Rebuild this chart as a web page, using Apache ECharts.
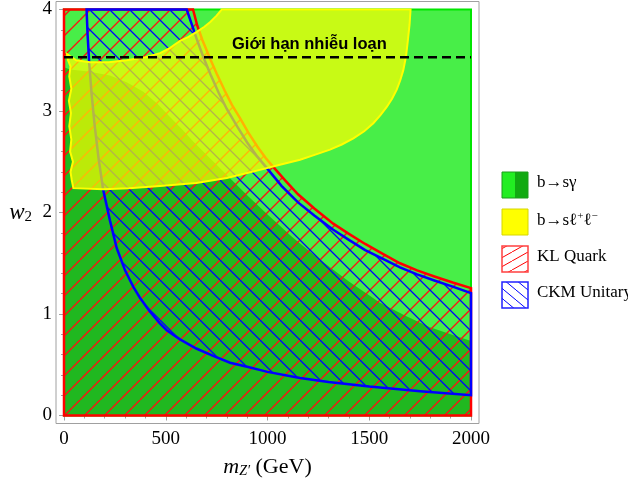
<!DOCTYPE html>
<html><head><meta charset="utf-8">
<script src="https://cdn.jsdelivr.net/npm/echarts@6/dist/echarts.min.js"></script>
<style>html,body{margin:0;padding:0;background:#fff}#c{width:628px;height:492px}</style>
</head><body><div id="c"></div>
<script>
// ---------- data ----------
const xRange = [0, 2000];
const yRange = [0, 4];
const xTickStep = 500;
const yTickStep = 1;
const perturbLimit = 3.53;
const perturbLabel = 'Giới hạn nhiễu loạn';
const legendLabels = ['{a|b→sγ}', '{a|b→sℓ}{p|+}{a|ℓ}{p|−}', '{a|KL Quark}', '{a|CKM Unitary}'];

// b→sγ allowed region (light green) and its darker core
const bsgFullRegion = [[0,0],[2000,0],[2000,4],[0,4]];
const bsgDarkEdge = [[0,3.43],[30,3.41],[120,3.39],[226,3.35],[310,3.28],[390,3.19],[460,3.07],[521,2.94],[580,2.82],[635,2.70],[700,2.57],[750,2.47],[800,2.37],[900,2.17],[1000,1.98],[1120,1.76],[1242,1.56],[1400,1.32],[1553,1.11],[1680,0.98],[1798,0.87],[1900,0.80],[2000,0.735]];
// b→sℓ+ℓ− region (yellow)
const bsllRegion = [[15,3.56],[60,3.50],[128,3.48],[220,3.48],[308,3.50],[400,3.53],[472,3.57],[520,3.62],[570,3.69],[612,3.73],[652,3.78],[690,3.83],[720,3.88],[750,3.94],[775,4.0],[1703,4.0],[1698,3.85],[1690,3.70],[1681,3.54],[1667,3.40],[1652,3.30],[1635,3.21],[1612,3.12],[1586,3.04],[1555,2.96],[1520,2.88],[1475,2.80],[1422,2.73],[1365,2.67],[1307,2.62],[1235,2.57],[1160,2.52],[1061,2.47],[963,2.42],[880,2.38],[800,2.34],[650,2.29],[472,2.26],[320,2.24],[193,2.23],[46,2.24],[38,2.32],[32,2.40],[44,2.50],[30,2.60],[36,2.72],[26,2.85],[34,2.98],[24,3.10],[36,3.22],[26,3.34],[32,3.44],[20,3.50]];
// KL quark bound (red)
const klEdge = [[634,4.0],[655,3.84],[680,3.70],[717,3.52],[750,3.37],[790,3.20],[825,3.06],[865,2.93],[905,2.79],[950,2.65],[990,2.54],[1028,2.45],[1090,2.31],[1150,2.18],[1230,2.04],[1323,1.89],[1400,1.79],[1480,1.69],[1560,1.60],[1651,1.50],[1735,1.43],[1820,1.37],[1910,1.31],[2000,1.255]];
// CKM unitarity band (blue)
const ckmUpperEdge = [[603,4.0],[625,3.87],[652,3.71],[685,3.53],[720,3.36],[760,3.18],[800,3.02],[850,2.85],[900,2.69],[950,2.55],[996,2.44],[1070,2.26],[1150,2.10],[1230,1.97],[1323,1.83],[1400,1.73],[1480,1.63],[1560,1.55],[1651,1.46],[1735,1.39],[1820,1.33],[1910,1.27],[2000,1.205]];
const ckmLowerEdge = [[111,4.0],[116,3.75],[124,3.47],[135,3.18],[150,2.87],[170,2.53],[192,2.23],[226,1.92],[259,1.65],[300,1.43],[340,1.27],[373,1.16],[420,1.03],[470,0.91],[505,0.84],[570,0.75],[650,0.66],[730,0.59],[816,0.52],[900,0.48],[1000,0.43],[1160,0.37],[1300,0.33],[1500,0.285],[1750,0.24],[2000,0.20]];

// ---------- build ----------
const darkRegion = bsgDarkEdge.concat([[2000,0],[0,0]]);
const klRegion = [[0,0],[2000,0]].concat(klEdge.slice().reverse(), [[0,4]]);
const ckmRegion = ckmUpperEdge.concat(ckmLowerEdge.slice().reverse());

function hatch(color, w, h, dir, lw) {
  const c = document.createElement('canvas');
  c.width = w; c.height = h;
  const g = c.getContext('2d');
  g.strokeStyle = color; g.lineWidth = lw;
  g.beginPath();
  for (let k = -1; k <= 2; k++) {
    if (dir === '/') { g.moveTo(k * w, 0); g.lineTo((k - 1) * w, h); }
    else { g.moveTo(k * w, 0); g.lineTo((k + 1) * w, h); }
  }
  g.stroke();
  return c;
}
const redHatch = hatch('#ff1010', 20, 20, '/', 1.4);
const blueHatch = hatch('#0000ff', 20, 20, '\\', 1.3);
const redHatchLeg = hatch('#ff0000', 16, 9, '/', 1);
const blueHatchLeg = hatch('#0000ff', 12, 10, '\\', 1);

function polySeries(name, pts, style) {
  return {
    type: 'custom', name: name, xAxisIndex: 0, yAxisIndex: 0,
    data: [[0]], silent: true, clip: false,
    renderItem: function (params, api) {
      return { type: 'polygon', shape: { points: pts.map(p => api.coord(p)) }, style: style };
    }
  };
}

const serif = 'Liberation Serif';
const tickStyle = { color: '#a0a0a0', width: 1 };
function dataAxis(pos, labels, extra) {
  const isX = (pos === 'bottom' || pos === 'top');
  return Object.assign({
    type: 'value', gridIndex: 1, position: pos, offset: 8,
    min: isX ? xRange[0] : yRange[0], max: isX ? xRange[1] : yRange[1],
    interval: isX ? xTickStep : yTickStep,
    axisLine: { show: false },
    axisTick: { show: true, inside: true, length: 5, lineStyle: tickStyle },
    minorTick: { show: true, splitNumber: 5, length: 3, lineStyle: tickStyle },
    splitLine: { show: false }, minorSplitLine: { show: false },
    axisLabel: { show: labels, color: '#000', fontFamily: serif, fontSize: 19, margin: isX ? 6 : 4,
      formatter: function (v) { return String(v); } }
  }, extra || {});
}

const chart = echarts.init(document.getElementById('c'), null, { renderer: 'canvas' });
chart.setOption({
  animation: false,
  backgroundColor: '#fff',
  grid: [
    { left: 56, top: 1.5, width: 423, height: 422, show: true, borderColor: '#a0a0a0', borderWidth: 1, backgroundColor: 'transparent' },
    { left: 64, top: 9.5, width: 407, height: 406, show: false }
  ],
  xAxis: [
    dataAxis('bottom', true, {
      name: '{i|m}{s|Z′} (GeV)', nameLocation: 'middle', nameGap: 33,
      nameTextStyle: { color: '#000', fontFamily: serif, fontSize: 22,
        rich: { i: { fontStyle: 'italic', fontFamily: serif, fontSize: 22, color: '#000' },
                s: { fontStyle: 'italic', fontFamily: serif, fontSize: 14, color: '#000', padding: [8, 0, 0, 0] } } }
    }),
    dataAxis('top', false),
    { type: 'value', gridIndex: 0, show: false, min: -40, max: 2040 }
  ],
  yAxis: [
    dataAxis('left', true, {
      name: '{i|w}{s|2}', nameLocation: 'middle', nameRotate: 0, nameGap: 24,
      nameTextStyle: { color: '#000', fontFamily: serif, fontSize: 22,
        rich: { i: { fontStyle: 'italic', fontFamily: serif, fontSize: 23, color: '#000' },
                s: { fontFamily: serif, fontSize: 15, color: '#000', padding: [9, 0, 0, 0] } } }
    }),
    dataAxis('right', false),
    { type: 'value', gridIndex: 0, show: false, min: -0.08, max: 4.08 }
  ],
  series: [
    polySeries('b→sγ', bsgFullRegion, { fill: '#48ee48', stroke: '#00e600', lineWidth: 2 }),
    polySeries('b→sγ core', darkRegion, { fill: '#20b820', stroke: null, lineWidth: 0 }),
    polySeries('KL Quark', klRegion, { fill: { image: redHatch, repeat: 'repeat' }, stroke: '#ff0000', lineWidth: 2.5, lineJoin: 'miter' }),
    polySeries('CKM Unitary', ckmRegion, { fill: { image: blueHatch, repeat: 'repeat' }, stroke: '#0000ff', lineWidth: 2.5, lineJoin: 'miter' }),
    polySeries('b→sℓ+ℓ−', bsllRegion, { fill: 'rgba(255,255,0,0.70)', stroke: '#ffff00', lineWidth: 2 }),
    {
      type: 'line', name: 'perturbative limit', xAxisIndex: 0, yAxisIndex: 0,
      data: [[xRange[0], perturbLimit], [xRange[1], perturbLimit]],
      symbol: 'none', silent: true,
      lineStyle: { color: '#000', width: 2.5, type: [9, 5] }
    }
  ],
  graphic: [
    { type: 'text', left: 232, top: 36, z: 100, style: { text: perturbLabel, fill: '#000', font: 'bold 16.5px "Liberation Sans"' } },
    // legend
    { type: 'rect', shape: { x: 502, y: 172, width: 13, height: 26 }, style: { fill: '#22ee22' } },
    { type: 'rect', shape: { x: 515, y: 172, width: 13, height: 26 }, style: { fill: '#11aa11' } },
    { type: 'rect', shape: { x: 502, y: 172, width: 26, height: 26 }, style: { fill: null, stroke: '#1c9c1c', lineWidth: 1 } },
    { type: 'rect', shape: { x: 502, y: 209, width: 26, height: 26 }, style: { fill: '#ffff00', stroke: '#d6d600', lineWidth: 1 } },
    { type: 'rect', shape: { x: 502, y: 246, width: 26, height: 26 }, style: { fill: { image: redHatchLeg, repeat: 'repeat' }, stroke: '#ff4040', lineWidth: 1.5 } },
    { type: 'rect', shape: { x: 502, y: 282, width: 26, height: 26 }, style: { fill: { image: blueHatchLeg, repeat: 'repeat' }, stroke: '#2020ff', lineWidth: 1.5 } },
  ].concat(legendLabels.map((t, i) => ({
    type: 'text', left: 537, top: [185, 222, 259, 295][i] - 11,
    style: { text: t, fill: '#000', font: '17px "Liberation Serif"',
      rich: { a: { fontFamily: serif, fontSize: 17, fill: '#000', color: '#000' },
              p: { fontFamily: serif, fontSize: 11, fill: '#000', color: '#000', padding: [0, 0, 8, 0] } } }
  })))
});
</script></body></html>
